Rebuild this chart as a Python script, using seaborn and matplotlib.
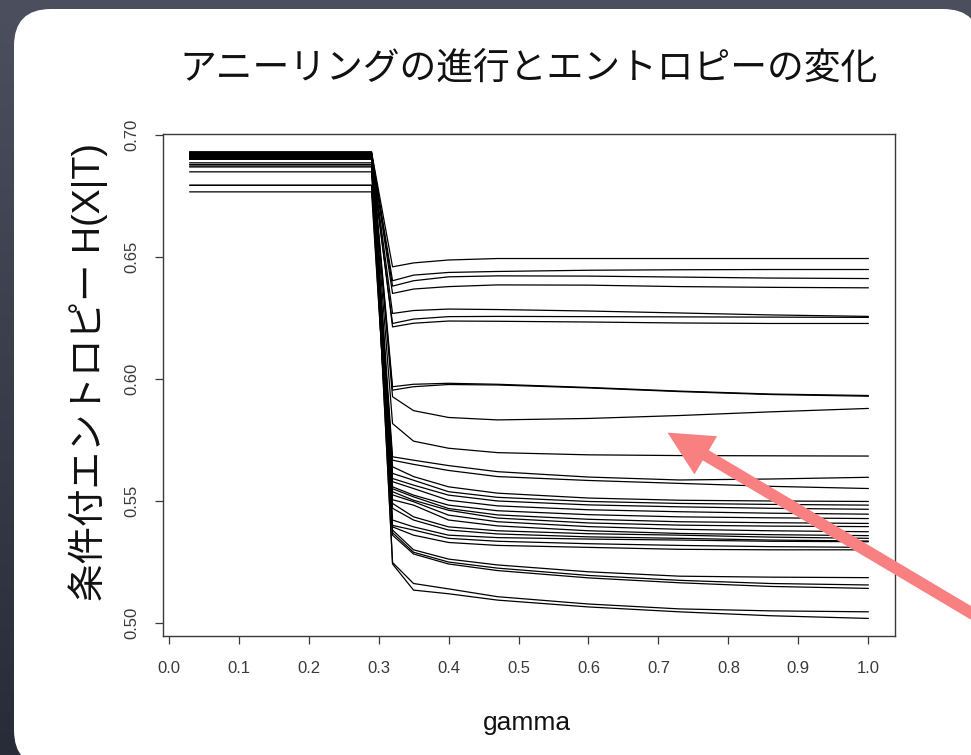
import numpy as np
import pandas as pd
import matplotlib
matplotlib.use("Agg")
import matplotlib.pyplot as plt
from matplotlib.patches import FancyBboxPatch
from matplotlib import font_manager
import seaborn as sns

# ---------------------------------------------------------------- data
title = "アニーリングの進行とエントロピーの変化"
x_label = "gamma"
y_label = "条件付エントロピー H(X|T)"

gamma = [0.03, 0.29, 0.32, 0.35, 0.40, 0.47, 0.60, 0.73, 0.86, 1.00]

x_ticks = [0.0, 0.1, 0.2, 0.3, 0.4, 0.5, 0.6, 0.7, 0.8, 0.9, 1.0]
x_tick_labels = ["0.0", "0.1", "0.2", "0.3", "0.4", "0.5",
                 "0.6", "0.7", "0.8", "0.9", "1.0"]
y_ticks = [0.50, 0.55, 0.60, 0.65, 0.70]
y_tick_labels = ["0.50", "0.55", "0.60", "0.65", "0.70"]

# conditional entropy of each run while gamma is still below the transition
start_level = [
    0.6929, 0.6927, 0.6925, 0.6922, 0.6920, 0.6885, 0.6918,   # upper group
    0.6930, 0.6915, 0.6912,                                   # middle group
    0.6910, 0.6907, 0.6793,                                   # 0.56-0.57
    0.6905, 0.6903, 0.6878, 0.6901, 0.6899, 0.6848, 0.6924,
    0.6921, 0.6872, 0.6916, 0.6913, 0.6766, 0.6908, 0.6793,   # 0.53-0.55
    0.6868, 0.6904, 0.6900,                                   # 0.51-0.52
    0.6926, 0.6919,                                           # ~0.50
]

# conditional entropy of each run at gamma = 0.32, 0.35, 0.40, 0.47, 0.60, 0.73, 0.86, 1.00
after_transition = [
    [0.6459, 0.6475, 0.6487, 0.6493, 0.6493, 0.6493, 0.6493, 0.6493],
    [0.6402, 0.6425, 0.6436, 0.6440, 0.6445, 0.6447, 0.6448, 0.6448],
    [0.6380, 0.6402, 0.6418, 0.6422, 0.6421, 0.6417, 0.6413, 0.6411],
    [0.6350, 0.6368, 0.6378, 0.6385, 0.6384, 0.6378, 0.6375, 0.6373],
    [0.6268, 0.6280, 0.6286, 0.6284, 0.6278, 0.6270, 0.6262, 0.6256],
    [0.6227, 0.6245, 0.6255, 0.6256, 0.6255, 0.6254, 0.6253, 0.6252],
    [0.6213, 0.6228, 0.6237, 0.6236, 0.6233, 0.6229, 0.6227, 0.6227],
    [0.5968, 0.5978, 0.5982, 0.5978, 0.5965, 0.5950, 0.5938, 0.5932],
    [0.5954, 0.5968, 0.5977, 0.5975, 0.5963, 0.5948, 0.5936, 0.5929],
    [0.5927, 0.5870, 0.5842, 0.5832, 0.5838, 0.5850, 0.5865, 0.5879],
    [0.5817, 0.5745, 0.5716, 0.5698, 0.5689, 0.5686, 0.5685, 0.5684],
    [0.5681, 0.5667, 0.5645, 0.5620, 0.5598, 0.5586, 0.5590, 0.5597],
    [0.5667, 0.5650, 0.5625, 0.5600, 0.5584, 0.5572, 0.5560, 0.5551],
    [0.5640, 0.5600, 0.5558, 0.5532, 0.5512, 0.5503, 0.5500, 0.5498],
    [0.5613, 0.5585, 0.5538, 0.5515, 0.5498, 0.5490, 0.5486, 0.5483],
    [0.5592, 0.5565, 0.5524, 0.5500, 0.5484, 0.5476, 0.5470, 0.5466],
    [0.5579, 0.5551, 0.5503, 0.5480, 0.5464, 0.5456, 0.5450, 0.5446],
    [0.5558, 0.5524, 0.5483, 0.5460, 0.5444, 0.5435, 0.5431, 0.5428],
    [0.5550, 0.5517, 0.5469, 0.5443, 0.5425, 0.5415, 0.5411, 0.5408],
    [0.5538, 0.5503, 0.5462, 0.5430, 0.5410, 0.5401, 0.5397, 0.5395],
    [0.5525, 0.5497, 0.5442, 0.5415, 0.5395, 0.5384, 0.5378, 0.5374],
    [0.5505, 0.5483, 0.5422, 0.5398, 0.5378, 0.5367, 0.5362, 0.5358],
    [0.5490, 0.5435, 0.5394, 0.5378, 0.5366, 0.5360, 0.5352, 0.5347],
    [0.5470, 0.5422, 0.5381, 0.5365, 0.5353, 0.5347, 0.5340, 0.5336],
    [0.5422, 0.5394, 0.5360, 0.5350, 0.5344, 0.5340, 0.5335, 0.5333],
    [0.5400, 0.5381, 0.5347, 0.5335, 0.5325, 0.5318, 0.5313, 0.5310],
    [0.5394, 0.5360, 0.5330, 0.5318, 0.5310, 0.5302, 0.5300, 0.5300],
    [0.5381, 0.5300, 0.5262, 0.5238, 0.5210, 0.5192, 0.5188, 0.5186],
    [0.5370, 0.5290, 0.5250, 0.5225, 0.5195, 0.5175, 0.5162, 0.5156],
    [0.5360, 0.5283, 0.5242, 0.5215, 0.5185, 0.5165, 0.5150, 0.5142],
    [0.5248, 0.5162, 0.5140, 0.5108, 0.5078, 0.5058, 0.5050, 0.5046],
    [0.5242, 0.5135, 0.5120, 0.5094, 0.5066, 0.5046, 0.5030, 0.5019],
]

# point the arrow at this spot of the plot (gamma, entropy)
arrow_tip = (0.713, 0.578)

# ---------------------------------------------------------------- table
rows = []
for run, (s, tail) in enumerate(zip(start_level, after_transition)):
    values = [s, s] + list(tail)
    for g, h in zip(gamma, values):
        rows.append({"run": run, "gamma": g, "H": h})
df = pd.DataFrame(rows)

# ---------------------------------------------------------------- style
sns.set_theme(style="white")
available = {f.name for f in font_manager.fontManager.ttflist}
latin = "Liberation Sans Narrow" if "Liberation Sans Narrow" in available else "Liberation Sans"
plt.rcParams["font.family"] = [latin, "Noto Sans CJK JP", "DejaVu Sans"]

W, H = 971, 755
fig = plt.figure(figsize=(W / 100, H / 100), dpi=100)

# slide backdrop: dark slate gradient and a white rounded card
bg = fig.add_axes([0, 0, 1, 1], zorder=0)
grad = np.linspace(0, 1, 256)[:, None]
top_c = np.array([0x4c, 0x50, 0x5e]) / 255
bot_c = np.array([0x28, 0x2c, 0x39]) / 255
img = top_c[None, None, :] * (1 - grad[..., None]) + bot_c[None, None, :] * grad[..., None]
bg.imshow(np.repeat(img, 4, axis=1), extent=(0, W, H, 0), aspect="auto")
bg.add_patch(FancyBboxPatch((14, 9), 966, 758,
                            boxstyle="round,pad=0,rounding_size=37",
                            fc="white", ec="none"))
bg.set_xlim(0, W)
bg.set_ylim(H, 0)
bg.axis("off")

# plot region
ax = fig.add_axes([163 / W, 119 / H, 732 / W, 502 / H], zorder=1)
ax.set_facecolor("white")

sns.lineplot(data=df, x="gamma", y="H", units="run", estimator=None,
             sort=False, color="black", linewidth=0.9, legend=False, ax=ax)

ax.set_xlim(-0.008, 1.038)
ax.set_ylim(0.4947, 0.7003)
ax.set_xticks(x_ticks)
ax.set_xticklabels(x_tick_labels)
ax.set_yticks(y_ticks)
ax.set_yticklabels(y_tick_labels, rotation=90, va="center")

for sp in ax.spines.values():
    sp.set_visible(True)
    sp.set_color("#3a3a3a")
    sp.set_linewidth(1.0)

ax.tick_params(axis="both", direction="out", length=6, width=0.9,
               color="#3a3a3a", labelcolor="#3a3a3a", labelsize=12,
               bottom=True, left=True, top=False, right=False)
ax.tick_params(axis="x", pad=12)
ax.tick_params(axis="y", pad=11)

ax.set_xlabel(x_label, fontsize=19, color="#111111", va="center")
ax.xaxis.set_label_coords((527 - 163) / 732, (755 - 723 - 119) / 502)
ax.set_ylabel(y_label, fontsize=27, color="#111111", va="center",
              family=["Liberation Sans", "Noto Sans CJK JP"])
ax.yaxis.set_label_coords((88 - 163) / 732, (755 - 372 - 119) / 502)

ax.set_title(title, fontsize=26.5, color="#111111", y=(755 - 68 - 119) / 502,
             va="center", pad=0, family=["Noto Sans CJK JP"])

# highlight arrow coming in from the right edge of the slide
ann = ax.annotate("", xy=arrow_tip, xycoords="data",
                  xytext=(1010, 755 - 636), textcoords="figure pixels",
                  arrowprops=dict(arrowstyle="simple,head_length=3.2,head_width=3.2,tail_width=0.85",
                                  mutation_scale=10, color="#f98080",
                                  shrinkA=0, shrinkB=0, lw=0),
                  annotation_clip=False, zorder=10)
ann.arrow_patch.set_clip_on(False)

fig.savefig("out.png", dpi=100)
